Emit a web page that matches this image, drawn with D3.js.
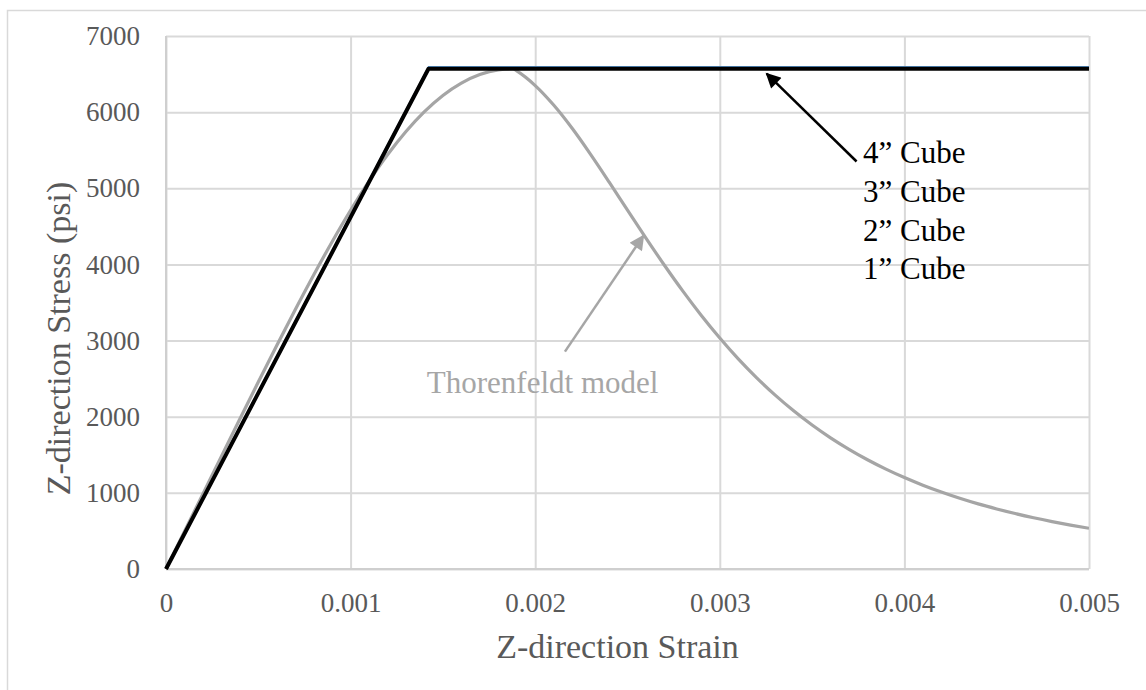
<!DOCTYPE html>
<html>
<head>
<meta charset="utf-8">
<script src="https://cdn.jsdelivr.net/npm/d3@7"></script>
<style>
  html, body { margin: 0; padding: 0; background: #fff; }
  svg { display: block; }
</style>
</head>
<body>
<svg id="chart" width="1146" height="690"></svg>
<script>
// ---- data ----
const xTicks = [0, 0.001, 0.002, 0.003, 0.004, 0.005];
const xTickLabels = ["0", "0.001", "0.002", "0.003", "0.004", "0.005"];
const yTicks = [0, 1000, 2000, 3000, 4000, 5000, 6000, 7000];
const yTickLabels = ["0", "1000", "2000", "3000", "4000", "5000", "6000", "7000"];

const xTitle = "Z-direction Strain";
const yTitle = "Z-direction Stress (psi)";
const cubeLabels = ["4\u201D Cube", "3\u201D Cube", "2\u201D Cube", "1\u201D Cube"];
const modelLabel = "Thorenfeldt model";

// cube results (strain, stress psi)
const cube1 = [[0, 0], [0.001424, 6590], [0.005, 6590]];
const cube2 = [[0, 0], [0.001422, 6572], [0.005, 6572]];
const cube3 = [[0, 0], [0.001422, 6572], [0.005, 6572]];
const cube4 = [[0, 0], [0.001422, 6570], [0.005, 6570]];

// Thorenfeldt model curve
const modelStrain = [0, 0.0001, 0.0002, 0.0003, 0.0004, 0.0005, 0.0006, 0.0007, 0.0008, 0.0009,
  0.0010, 0.0011, 0.0012, 0.0013, 0.0014, 0.0015, 0.0016, 0.0017, 0.0018, 0.00188,
  0.0019, 0.0020, 0.0021, 0.0022, 0.0023, 0.0024, 0.0025, 0.0026, 0.0027, 0.0028, 0.0029,
  0.0030, 0.0031, 0.0032, 0.0033, 0.0034, 0.0035, 0.0036, 0.0037, 0.0038, 0.0039,
  0.0040, 0.0041, 0.0042, 0.0043, 0.0044, 0.0045, 0.0046, 0.0047, 0.0048, 0.0049, 0.0050];
const modelStress = [0, 493, 986, 1479, 1969, 2456, 2936, 3406, 3862, 4298,
  4711, 5093, 5440, 5746, 6007, 6220, 6382, 6494, 6556, 6570,
  6541, 6349, 6093, 5788, 5446, 5084, 4713, 4346, 3989, 3649, 3330,
  3034, 2760, 2511, 2284, 2078, 1891, 1723, 1572, 1435, 1312,
  1201, 1101, 1011, 929, 855, 789, 728, 673, 623, 577, 535];

// annotation anchors in data units: [tailStrain, tailStress, tipStrain, tipStress]
const cubeArrow = [0.003741, 5352, 0.003254, 6505];
const modelArrow = [0.002161, 2855, 0.002586, 4376];
const cubeLabelPos = [0.003776, 5330];
const modelLabelPos = [0.001413, 2308];

// ---- drawing ----
const FONT = "'Liberation Serif', 'Times New Roman', Tinos, 'DejaVu Serif', serif";
const svg = d3.select("#chart");
const W = 1146, H = 690;
const plot = { left: 166, right: 1089, top: 36, bottom: 569 };

const x = d3.scaleLinear().domain([0, 0.005]).range([plot.left, plot.right]);
const y = d3.scaleLinear().domain([0, 7000]).range([plot.bottom, plot.top]);

// outer frame
svg.append("rect")
  .attr("x", 7.5).attr("y", 10.5)
  .attr("width", W + 10).attr("height", H + 10)
  .attr("fill", "none").attr("stroke", "#d9d9d9").attr("stroke-width", 1.5);

const gridColor = "#d9d9d9";

// grid (vertical)
const gx = svg.append("g").attr("transform", `translate(0,${plot.bottom})`)
  .call(d3.axisBottom(x).tickValues(xTicks).tickSize(-(plot.bottom - plot.top)).tickFormat(""));
gx.select(".domain").remove();
gx.selectAll("line").attr("stroke", gridColor).attr("stroke-width", 2);

// grid (horizontal)
const gy = svg.append("g").attr("transform", `translate(${plot.left},0)`)
  .call(d3.axisLeft(y).tickValues(yTicks).tickSize(-(plot.right - plot.left)).tickFormat(""));
gy.select(".domain").remove();
gy.selectAll("line").attr("stroke", gridColor).attr("stroke-width", 2);

// axis lines
svg.append("line").attr("x1", plot.left).attr("x2", plot.right)
  .attr("y1", plot.bottom).attr("y2", plot.bottom)
  .attr("stroke", "#cfcfcf").attr("stroke-width", 2);
svg.append("line").attr("x1", plot.left).attr("x2", plot.left)
  .attr("y1", plot.top).attr("y2", plot.bottom)
  .attr("stroke", "#cfcfcf").attr("stroke-width", 2);

// tick labels
const ax = svg.append("g").attr("transform", `translate(0,${plot.bottom})`)
  .call(d3.axisBottom(x).tickValues(xTicks).tickSize(0).tickPadding(24)
    .tickFormat((d, i) => xTickLabels[i]));
ax.attr("font-family", null).attr("font-size", null);
ax.select(".domain").remove();
ax.selectAll("text").style("font-family", FONT).style("font-size", "27px").attr("fill", "#595959");

const ay = svg.append("g").attr("transform", `translate(${plot.left},0)`)
  .call(d3.axisLeft(y).tickValues(yTicks).tickSize(0).tickPadding(26)
    .tickFormat((d, i) => yTickLabels[i]));
ay.attr("font-family", null).attr("font-size", null);
ay.select(".domain").remove();
ay.selectAll("text").style("font-family", FONT).style("font-size", "27px").attr("fill", "#595959");

// axis titles
svg.append("text").attr("x", (plot.left + plot.right) / 2 - 10).attr("y", 658)
  .attr("text-anchor", "middle").style("font-family", FONT).style("font-size", "34px")
  .attr("fill", "#595959").text(xTitle);
svg.append("text")
  .attr("transform", `translate(70,${(plot.top + plot.bottom) / 2 + 36}) rotate(-90)`)
  .attr("text-anchor", "middle").style("font-family", FONT).style("font-size", "34px")
  .attr("fill", "#595959").text(yTitle);

// lines
const line = d3.line().x(d => x(d[0])).y(d => y(d[1]));
const modelData = modelStrain.map((s, i) => [s, modelStress[i]]);

svg.append("clipPath").attr("id", "clip").append("rect")
  .attr("x", plot.left - 3).attr("y", plot.top - 10)
  .attr("width", plot.right - plot.left + 3).attr("height", plot.bottom - plot.top + 13);

const lines = svg.append("g").attr("clip-path", "url(#clip)");
lines.append("path").datum(modelData)
  .attr("d", line.curve(d3.curveMonotoneX))
  .attr("fill", "none").attr("stroke", "#a5a5a5").attr("stroke-width", 3.2);

const straight = d3.line().x(d => x(d[0])).y(d => y(d[1]));
lines.append("path").datum(cube1).attr("d", straight)
  .attr("fill", "none").attr("stroke", "#5b9bd5").attr("stroke-width", 2.5);
lines.append("path").datum(cube2).attr("d", straight)
  .attr("fill", "none").attr("stroke", "#ed7d31").attr("stroke-width", 2);
lines.append("path").datum(cube3).attr("d", straight)
  .attr("fill", "none").attr("stroke", "#a5a5a5").attr("stroke-width", 2);
lines.append("path").datum(cube4).attr("d", straight)
  .attr("fill", "none").attr("stroke", "#000").attr("stroke-width", 4)
  .attr("stroke-linejoin", "round");

// arrows
const defs = svg.append("defs");
function marker(id, color) {
  defs.append("marker").attr("id", id)
    .attr("viewBox", "0 0 10 10").attr("refX", 9).attr("refY", 5)
    .attr("markerWidth", 7).attr("markerHeight", 6)
    .attr("markerUnits", "strokeWidth").attr("orient", "auto")
    .append("path").attr("d", "M0,0 L10,5 L0,10 z").attr("fill", color);
}
marker("arrowBlack", "#000");
marker("arrowGray", "#a6a6a6");

svg.append("line")
  .attr("x1", x(cubeArrow[0])).attr("y1", y(cubeArrow[1]))
  .attr("x2", x(cubeArrow[2])).attr("y2", y(cubeArrow[3]))
  .attr("stroke", "#000").attr("stroke-width", 2.5)
  .attr("marker-end", "url(#arrowBlack)");
svg.append("line")
  .attr("x1", x(modelArrow[0])).attr("y1", y(modelArrow[1]))
  .attr("x2", x(modelArrow[2])).attr("y2", y(modelArrow[3]))
  .attr("stroke", "#a6a6a6").attr("stroke-width", 2.5)
  .attr("marker-end", "url(#arrowGray)");

// labels
const lbl = svg.append("text").attr("x", x(cubeLabelPos[0])).attr("y", y(cubeLabelPos[1]))
  .style("font-family", FONT).style("font-size", "31px").attr("fill", "#000");
cubeLabels.forEach((t, i) => {
  lbl.append("tspan").attr("x", x(cubeLabelPos[0])).attr("dy", i === 0 ? 0 : 38.7).text(t);
});
svg.append("text").attr("x", x(modelLabelPos[0])).attr("y", y(modelLabelPos[1]))
  .style("font-family", FONT).style("font-size", "31px").attr("fill", "#a6a6a6").text(modelLabel);
</script>
</body>
</html>
